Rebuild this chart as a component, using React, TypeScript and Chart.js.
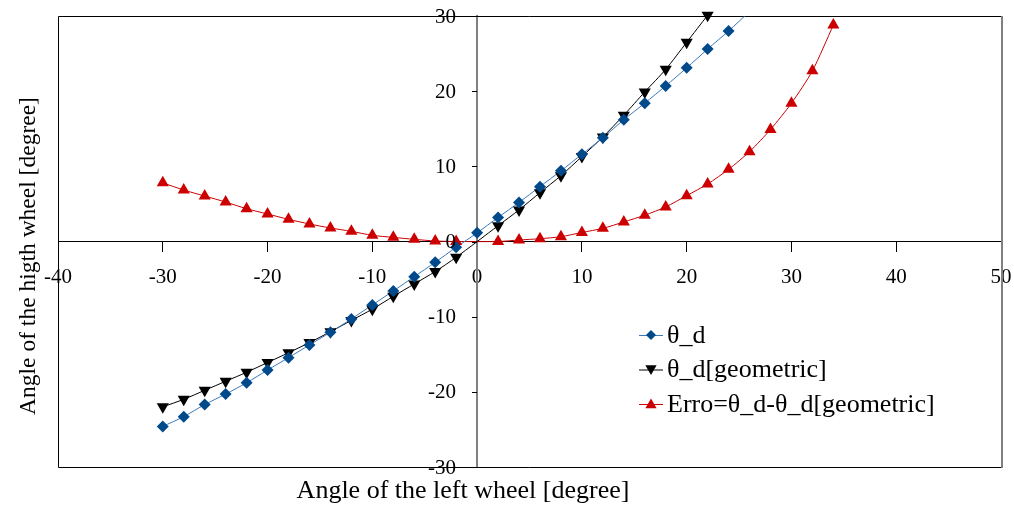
import React, { useEffect, useRef } from 'react';
import { Chart, registerables } from 'chart.js';

Chart.register(...registerables);

// ---- axis ranges / labels ----
const X_MIN = -40;
const X_MAX = 50;
const X_STEP = 10;
const Y_MIN = -30;
const Y_MAX = 30;
const Y_STEP = 10;
const X_TITLE = 'Angle of the left wheel [degree]';
const Y_TITLE = 'Angle of the higth wheel [degree]';

// ---- series: θ_d ----
const thetaLabel = 'θ_d';
const thetaX = [-30, -28, -26, -24, -22, -20, -18, -16, -14, -12, -10, -8, -6, -4, -2, 0, 2, 4, 6, 8, 10, 12, 14, 16, 18, 20, 22, 24, 26];
const thetaY = [-24.6, -23.3, -21.7, -20.3, -18.8, -17.1, -15.45, -13.76, -12.08, -10.3, -8.44, -6.58, -4.68, -2.77, -0.77, 1.15, 3.2, 5.2, 7.3, 9.4, 11.6, 13.8, 16.2, 18.4, 20.7, 23.1, 25.6, 28.0, 30.6];

// ---- series: θ_d[geometric] ----
const geomLabel = 'θ_d[geometric]';
const geomX = [-30, -28, -26, -24, -22, -20, -18, -16, -14, -12, -10, -8, -6, -4, -2, 2, 4, 6, 8, 10, 12, 14, 16, 18, 20, 22];
const geomY = [-22.0, -21.0, -19.8, -18.6, -17.4, -16.1, -14.8, -13.45, -12.0, -10.5, -9.0, -7.3, -5.65, -4.0, -2.1, 2.1, 4.2, 6.5, 8.75, 11.3, 13.9, 16.8, 19.9, 22.9, 26.5, 30.1];

// ---- series: Erro ----
const errLabel = 'Erro=θ_d-θ_d[geometric]';
const errX = [-30, -28, -26, -24, -22, -20, -18, -16, -14, -12, -10, -8, -6, -4, -2, 2, 4, 6, 8, 10, 12, 14, 16, 18, 20, 22, 24, 26, 28, 30, 32, 34];
const errY = [7.8, 6.85, 6.05, 5.25, 4.36, 3.66, 2.95, 2.33, 1.8, 1.35, 0.82, 0.55, 0.29, 0.07, 0.0, 0.0, 0.2, 0.37, 0.64, 1.2, 1.75, 2.6, 3.5, 4.6, 6.1, 7.65, 9.6, 11.95, 14.9, 18.4, 22.7, 28.8];

const FONT = '"Liberation Serif", "Times New Roman", serif';

type SeriesDef = {
  label: string;
  xs: number[];
  ys: number[];
  line: string;
  fill: string;
  style: string;
  rotation: number;
  radius: number;
};

const SERIES: SeriesDef[] = [
  { label: thetaLabel, xs: thetaX, ys: thetaY, line: '#3a78bd', fill: '#004a8c', style: 'rectRot', rotation: 0, radius: 6 },
  { label: geomLabel, xs: geomX, ys: geomY, line: '#000000', fill: '#000000', style: 'triangle', rotation: 180, radius: 7 },
  { label: errLabel, xs: errX, ys: errY, line: '#cc0000', fill: '#cc0000', style: 'triangle', rotation: 0, radius: 7 },
];

function toPoints(xs: number[], ys: number[]) {
  return xs.map((x, i) => ({ x, y: ys[i] }));
}

function drawMarker(ctx: CanvasRenderingContext2D, style: string, rotation: number, x: number, y: number, r: number, color: string) {
  ctx.save();
  ctx.translate(x, y);
  ctx.rotate((rotation * Math.PI) / 180);
  ctx.beginPath();
  if (style === 'rectRot') {
    ctx.moveTo(0, -r);
    ctx.lineTo(r, 0);
    ctx.lineTo(0, r);
    ctx.lineTo(-r, 0);
  } else {
    for (let k = 0; k < 3; k++) {
      const a = (k * 2 * Math.PI) / 3;
      const px = Math.sin(a) * r;
      const py = -Math.cos(a) * r;
      if (k === 0) ctx.moveTo(px, py);
      else ctx.lineTo(px, py);
    }
  }
  ctx.closePath();
  ctx.fillStyle = color;
  ctx.fill();
  ctx.restore();
}

const zeroPad = (s: any) => {
  s.paddingTop = 0;
  s.paddingBottom = 0;
  s.paddingLeft = 0;
  s.paddingRight = 0;
};

const decorPlugin = {
  id: 'decor',
  beforeDatasetsDraw(chart: any) {
    const { ctx, chartArea: a } = chart;
    ctx.save();
    ctx.lineWidth = 1;
    ctx.strokeStyle = '#000000';
    ctx.beginPath();
    ctx.moveTo(a.right, a.top + 0.5);
    ctx.lineTo(a.left + 0.5, a.top + 0.5);
    ctx.lineTo(a.left + 0.5, a.bottom + 0.5);
    ctx.lineTo(a.right, a.bottom + 0.5);
    ctx.stroke();
    ctx.strokeStyle = '#808080';
    ctx.lineWidth = 2;
    ctx.beginPath();
    ctx.moveTo(a.right + 1, a.top);
    ctx.lineTo(a.right + 1, a.bottom + 1);
    ctx.stroke();
    // y-axis tick marks (5px, left of the axis)
    const ys = chart.scales.y;
    const xs = chart.scales.x;
    const ax = Math.round(xs.getPixelForValue(0));
    ctx.strokeStyle = '#000000';
    ctx.lineWidth = 1;
    ctx.beginPath();
    ys.ticks.forEach((t: any) => {
      const py = Math.round(ys.getPixelForValue(t.value)) + 0.5;
      ctx.moveTo(ax - 5, py);
      ctx.lineTo(ax, py);
    });
    ctx.stroke();
    ctx.restore();
  },
  afterDraw(chart: any) {
    const { ctx } = chart;
    ctx.save();
    // y tick labels
    const ys = chart.scales.y;
    const xs = chart.scales.x;
    const ax = Math.round(xs.getPixelForValue(0));
    ctx.fillStyle = '#000000';
    ctx.font = `21px ${FONT}`;
    ctx.textAlign = 'right';
    ctx.textBaseline = 'middle';
    ys.ticks.forEach((t: any) => {
      const py = ys.getPixelForValue(t.value);
      ctx.fillText(String(t.value), ax - 21, py + 1);
    });

    ctx.textAlign = 'center';
    ctx.textBaseline = 'alphabetic';
    ctx.font = `26px ${FONT}`;
    ctx.fillText(X_TITLE, 463, 498);
    ctx.save();
    ctx.font = `23.5px ${FONT}`;
    ctx.translate(35, 256);
    ctx.rotate(-Math.PI / 2);
    ctx.fillText(Y_TITLE, 0, 0);
    ctx.restore();

    // legend
    const lx = 639;
    const ly0 = 335;
    const dy = 34.5;
    ctx.font = `26px ${FONT}`;
    ctx.textAlign = 'left';
    ctx.textBaseline = 'middle';
    SERIES.forEach((s, i) => {
      const y = ly0 + i * dy;
      ctx.strokeStyle = s.line;
      ctx.lineWidth = 1;
      ctx.beginPath();
      ctx.moveTo(lx, y + 0.5);
      ctx.lineTo(lx + 24, y + 0.5);
      ctx.stroke();
      drawMarker(ctx, s.style, s.rotation, lx + 12, y + (s.style === 'rectRot' ? 0 : s.rotation ? -1 : 1), s.style === 'rectRot' ? 5 : 6.5, s.fill);
      ctx.fillStyle = '#000000';
      ctx.fillText(s.label, lx + 28, y + 1);
    });
    ctx.restore();
  },
};

export default function App() {
  const ref = useRef<HTMLCanvasElement | null>(null);
  useEffect(() => {
    if (!ref.current) return;
    const lineSets = SERIES.map((s, i) => ({
      label: s.label + ' line',
      data: toPoints(s.xs, s.ys),
      showLine: true,
      borderColor: s.line,
      borderWidth: 1,
      pointRadius: 0,
      pointHoverRadius: 0,
      tension: 0.25,
      order: 10 + i,
    }));
    const markerSets = SERIES.map((s, i) => ({
      label: s.label,
      data: toPoints(s.xs, s.ys).filter((p) => p.y <= Y_MAX + 0.5),
      showLine: false,
      pointStyle: s.style,
      rotation: s.rotation,
      pointRadius: s.radius,
      pointBackgroundColor: s.fill,
      pointBorderColor: s.fill,
      pointBorderWidth: 0,
      clip: false,
      order: i,
    }));
    const chart = new Chart(ref.current, {
      type: 'scatter',
      data: { datasets: [...markerSets, ...lineSets] as any },
      options: {
        responsive: false,
        animation: false,
        events: [],
        layout: { padding: { left: 58, top: 16, right: 13, bottom: 40 } },
        plugins: { legend: { display: false }, tooltip: { enabled: false } },
        scales: {
          x: {
            type: 'linear',
            min: X_MIN,
            max: X_MAX,
            position: { y: 0 } as any,
            afterFit: (s: any) => { s.height = 0; zeroPad(s); },
            border: { display: true, color: '#000000', width: 1 },
            grid: { display: true, drawOnChartArea: false, drawTicks: true, tickLength: 10, color: '#000000' },
            ticks: { stepSize: X_STEP, autoSkip: false, maxRotation: 0, color: '#000000', padding: 13, font: { family: FONT, size: 21 } },
          },
          y: {
            type: 'linear',
            min: Y_MIN,
            max: Y_MAX,
            position: { x: 0 } as any,
            afterFit: (s: any) => { s.width = 0; zeroPad(s); },
            border: { display: true, color: '#808080', width: 2 },
            grid: { display: true, drawOnChartArea: false, drawTicks: false },
            ticks: { stepSize: Y_STEP, autoSkip: false, display: false, font: { family: FONT, size: 21 } },
          },
        },
      },
      plugins: [decorPlugin],
    });
    return () => chart.destroy();
  }, []);
  return (
    <div style={{ position: 'absolute', left: 0, top: 0, width: 1014, height: 507, background: '#ffffff' }}>
      <canvas ref={ref} width={1014} height={507} style={{ display: 'block' }} />
    </div>
  );
}
